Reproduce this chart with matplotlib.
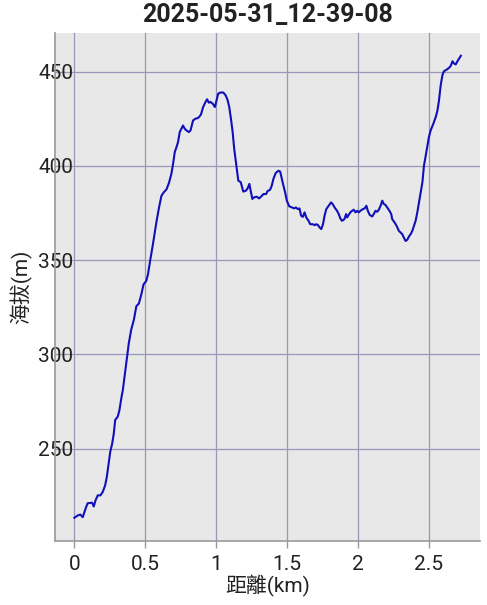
import matplotlib
matplotlib.use('Agg')
import matplotlib.pyplot as plt

plt.rcParams['font.family'] = ['Roboto', 'Noto Sans CJK TC', 'DejaVu Sans']

title = '2025-05-31_12-39-08'
xlabel = '距離(km)'
ylabel = '海拔(m)'
xticks = [0, 0.5, 1, 1.5, 2, 2.5]
xticklabels = ['0', '0.5', '1', '1.5', '2', '2.5']
yticks = [250, 300, 350, 400, 450]

# distance (km) / elevation (m)
dist = [0.000, 0.023, 0.042, 0.059, 0.083, 0.094, 0.125, 0.137, 0.149, 0.165,
        0.184, 0.200, 0.217, 0.229, 0.243, 0.253, 0.267, 0.278, 0.288, 0.306,
        0.318, 0.331, 0.342, 0.366, 0.384, 0.401, 0.420, 0.437, 0.455, 0.472,
        0.488, 0.507, 0.519, 0.536, 0.554, 0.578, 0.597, 0.614, 0.630, 0.649,
        0.667, 0.684, 0.696, 0.708, 0.720, 0.731, 0.743, 0.755, 0.766, 0.778,
        0.790, 0.807, 0.819, 0.837, 0.854, 0.873, 0.892, 0.908, 0.925, 0.936,
        0.948, 0.960, 0.975, 0.991, 1.003, 1.014, 1.031, 1.050, 1.067, 1.081,
        1.092, 1.104, 1.116, 1.127, 1.139, 1.156, 1.173, 1.191, 1.210, 1.222,
        1.234, 1.243, 1.255, 1.269, 1.286, 1.302, 1.316, 1.333, 1.352, 1.361,
        1.380, 1.392, 1.403, 1.420, 1.439, 1.451, 1.463, 1.474, 1.486, 1.498,
        1.515, 1.534, 1.550, 1.562, 1.576, 1.587, 1.599, 1.611, 1.623, 1.635,
        1.651, 1.663, 1.682, 1.694, 1.706, 1.718, 1.729, 1.741, 1.753, 1.764,
        1.776, 1.793, 1.810, 1.821, 1.835, 1.852, 1.864, 1.875, 1.887, 1.904,
        1.916, 1.923, 1.934, 1.946, 1.958, 1.970, 1.982, 1.994, 2.005, 2.017,
        2.033, 2.047, 2.059, 2.069, 2.083, 2.100, 2.111, 2.123, 2.135, 2.147,
        2.159, 2.171, 2.182, 2.194, 2.206, 2.222, 2.234, 2.241, 2.258, 2.272,
        2.288, 2.300, 2.312, 2.323, 2.335, 2.347, 2.359, 2.371, 2.383, 2.394,
        2.406, 2.418, 2.430, 2.442, 2.454, 2.465, 2.477, 2.489, 2.500, 2.512,
        2.531, 2.548, 2.560, 2.571, 2.583, 2.595, 2.606, 2.626, 2.642, 2.654,
        2.666, 2.677, 2.689, 2.701, 2.713, 2.725]
elev = [213.3, 214.5, 215.0, 213.6, 219.0, 221.0, 221.3, 219.3, 222.5, 225.2,
        225.2, 227.0, 230.5, 235.0, 243.0, 248.3, 252.8, 258.0, 265.2, 267.0,
        270.5, 276.7, 281.2, 295.4, 306.0, 313.2, 318.5, 325.6, 327.0, 331.8,
        337.2, 339.0, 342.5, 350.5, 358.5, 370.0, 378.0, 384.2, 386.0, 387.5,
        391.0, 395.8, 401.1, 407.4, 410.0, 412.7, 418.0, 419.8, 421.5, 419.8,
        418.9, 418.0, 418.9, 424.2, 425.1, 425.5, 427.2, 431.3, 434.0, 435.4,
        433.6, 434.0, 433.1, 431.3, 434.9, 438.4, 439.0, 439.0, 437.5, 434.9,
        431.3, 425.1, 418.0, 409.1, 402.0, 392.2, 391.4, 386.4, 386.9, 388.2,
        390.5, 386.9, 382.5, 383.4, 383.7, 382.8, 383.7, 385.1, 385.1, 386.6,
        387.4, 389.6, 393.1, 396.3, 397.5, 397.0, 393.1, 389.6, 386.0, 381.6,
        378.6, 378.0, 377.5, 378.0, 377.1, 377.5, 373.6, 373.0, 375.4, 372.7,
        370.9, 369.1, 369.1, 368.6, 369.1, 368.6, 367.4, 366.5, 369.1, 373.6,
        377.1, 378.9, 380.7, 379.8, 378.0, 376.2, 374.5, 372.2, 370.9, 371.8,
        374.5, 372.7, 374.0, 375.4, 376.2, 376.8, 375.4, 376.2, 375.4, 376.2,
        377.1, 377.5, 378.9, 376.2, 374.0, 373.2, 374.5, 376.2, 375.7, 376.8,
        378.9, 381.6, 379.8, 379.3, 378.0, 376.2, 374.5, 371.8, 370.0, 368.2,
        365.6, 364.7, 363.8, 362.0, 360.2, 360.8, 362.6, 363.8, 365.6, 368.2,
        370.9, 375.4, 380.7, 386.0, 391.4, 400.2, 405.5, 410.9, 415.4, 418.9,
        422.4, 426.0, 429.5, 434.9, 442.9, 448.2, 450.3, 451.2, 452.1, 453.2,
        455.6, 454.4, 453.9, 455.6, 457.1, 458.5]

fig = plt.figure(figsize=(4.87, 6.05), dpi=100)
ax = fig.add_axes([0.113, 0.106, 0.873, 0.840])
ax.set_facecolor('#e8e8e8')

ax.plot(dist, elev, color='#1010bb', linewidth=1.5, zorder=3)

ax.set_xticks(xticks)
ax.set_xticklabels(xticklabels)
ax.set_yticks(yticks)
ax.grid(True, color='#9898b8', linewidth=0.9)
ax.set_axisbelow(True)

for s in ['top', 'right']:
    ax.spines[s].set_visible(False)
for s in ['left', 'bottom']:
    ax.spines[s].set_color('#999999')
    ax.spines[s].set_linewidth(1.2)

ax.tick_params(axis='x', colors='#999999', labelcolor='#222222', labelsize=15,
               length=5, width=1, pad=5)
ax.tick_params(axis='y', labelcolor='#222222', labelsize=15, length=0, pad=-13)

ax.set_xlabel(xlabel, fontsize=15, color='#222222', labelpad=1)
ax.set_ylabel(ylabel, fontsize=15, color='#222222', labelpad=4)
ax.set_title(title, fontsize=18, fontweight='bold', color='#222222', pad=8)

fig.savefig('out.png', dpi=100)
